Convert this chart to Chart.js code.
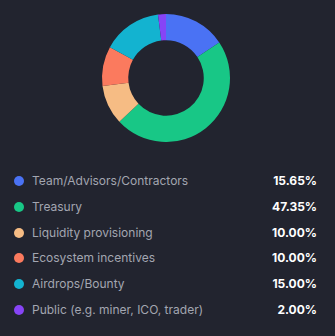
<!DOCTYPE html>
<html>
<head>
<meta charset="utf-8">
<script src="https://cdn.jsdelivr.net/npm/chart.js@4"></script>
<style>
    html, body {
        margin: 0;
        padding: 0;
        background: #22242f;
        width: 335px;
        height: 336px;
        overflow: hidden;
        font-family: Inter, "Noto Sans", sans-serif;
    }
    #chart-box {
        position: absolute;
        left: 0;
        top: 14px;
        width: 332px;
        height: 128px;
    }
    #legend {
        position: absolute;
        left: 0;
        top: 168px;
        width: 335px;
    }
    .row {
        position: relative;
        height: 25.8px;
        line-height: 25.8px;
    }
    .dot {
        position: absolute;
        left: 14px;
        top: 8px;
        width: 10px;
        height: 10px;
        border-radius: 50%;
    }
    .label {
        position: absolute;
        left: 32px;
        font-size: 12px;
        color: #a3a6b1;
    }
    .value {
        position: absolute;
        right: 18px;
        font-size: 12px;
        font-weight: 700;
        color: #ffffff;
    }
</style>
</head>
<body>
<div id="chart-box"><canvas id="alloc-chart"></canvas></div>
<div id="legend"></div>

<script>
// Token allocation
const labels = [
    'Team/Advisors/Contractors',
    'Treasury',
    'Liquidity provisioning',
    'Ecosystem incentives',
    'Airdrops/Bounty',
    'Public (e.g. miner, ICO, trader)'
];
const shares = [15.65, 47.35, 10.00, 10.00, 15.00, 2.00];
const colors = ['#4a72f4', '#18c786', '#f6bc84', '#fb7a5e', '#13b3d0', '#8744f6'];

function renderAllocationChart() {
    const ctx = document.getElementById('alloc-chart');
    if (!ctx) return;

    new Chart(ctx, {
        type: 'doughnut',
        data: {
            labels: labels,
            datasets: [{
                data: shares,
                backgroundColor: colors,
                borderWidth: 0
            }]
        },
        options: {
            responsive: true,
            maintainAspectRatio: false,
            animation: false,
            cutout: '59%',
            layout: { padding: 0 },
            plugins: {
                legend: { display: false },
                tooltip: { enabled: false }
            }
        }
    });
}

// legend rows under the ring
function renderLegend() {
    const container = document.getElementById('legend');
    if (!container) return;

    labels.forEach((name, i) => {
        const row = document.createElement('div');
        row.className = 'row';
        row.innerHTML = `
            <span class="dot" style="background:${colors[i]}"></span>
            <span class="label">${name}</span>
            <span class="value">${shares[i].toFixed(2)}%</span>
        `;
        container.appendChild(row);
    });
}

renderAllocationChart();
renderLegend();
</script>
</body>
</html>
